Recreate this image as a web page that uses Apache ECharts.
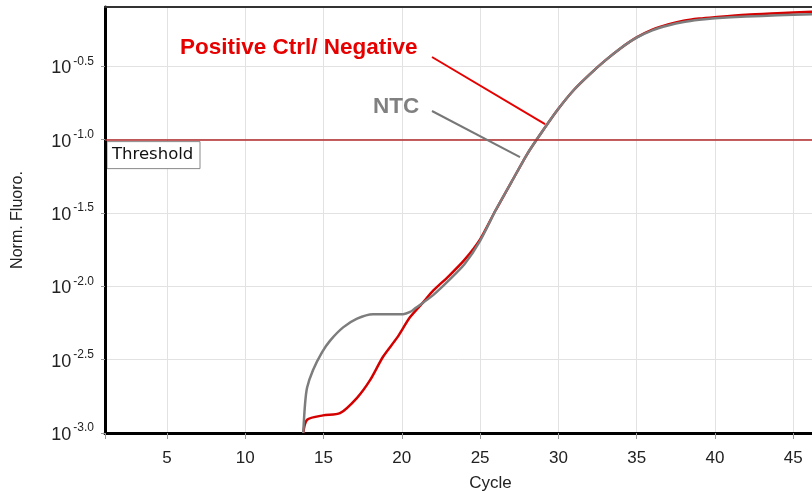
<!DOCTYPE html>
<html>
<head>
<meta charset="utf-8">
<script src="https://cdn.jsdelivr.net/npm/echarts@6/dist/echarts.min.js"></script>
<style>
  html, body { margin: 0; padding: 0; background: #fff; }
  #chart { width: 812px; height: 491px; }
</style>
</head>
<body>
<div id="chart"></div>
<script>
// Amplification curves; fluorescence stored as log10(Norm. Fluoro.)
const ntcCycles = [13.70, 13.82, 13.95, 14.33, 14.90, 15.42, 16.25, 17.14, 18.16, 20.08, 20.53, 20.85, 22, 23, 24, 25, 26, 27, 28, 29, 30, 31, 32, 33, 34, 35, 36, 37, 38, 39, 40, 42, 44, 46.2];
const ntcLogFluoro = [-3.00, -2.80, -2.69, -2.57, -2.45, -2.37, -2.28, -2.22, -2.19, -2.19, -2.175, -2.15, -2.06, -1.96, -1.85, -1.69, -1.48, -1.29, -1.10, -0.94, -0.79, -0.66, -0.555, -0.46, -0.375, -0.305, -0.255, -0.222, -0.198, -0.183, -0.173, -0.161, -0.153, -0.145];

const posCycles = [13.70, 13.95, 14.97, 16.05, 17.14, 17.97, 18.80, 19.70, 20.53, 21.36, 22, 23, 24, 25, 26, 27, 28, 29, 30, 31, 32, 33, 34, 35, 36, 37, 38, 39, 40, 42, 44, 46.2];
const posLogFluoro = [-3.00, -2.91, -2.88, -2.865, -2.76, -2.64, -2.48, -2.35, -2.21, -2.11, -2.03, -1.93, -1.82, -1.68, -1.48, -1.29, -1.10, -0.94, -0.79, -0.66, -0.555, -0.46, -0.375, -0.303, -0.25, -0.215, -0.19, -0.175, -0.165, -0.148, -0.138, -0.128];

const thresholdLog = -1.0;
const cycleRange = [1.04, 46.2];
const logRange = [-3.0, -0.096];

const pairs = (xs, ys) => xs.map((x, i) => [x, ys[i]]);

const chart = echarts.init(document.getElementById('chart'), null, { renderer: 'canvas' });
const FONT = '"Liberation Sans", Arial, sans-serif';

chart.setOption({
  animation: false,
  backgroundColor: '#ffffff',
  grid: { left: 105, right: 0, top: 7, bottom: 58, containLabel: false, outerBoundsMode: 'none' },
  xAxis: [{
    type: 'value',
    min: cycleRange[0],
    max: cycleRange[1],
    minInterval: 5,
    maxInterval: 5,
    name: 'Cycle',
    nameLocation: 'middle',
    nameGap: 42,
    nameTextStyle: { fontFamily: FONT, fontSize: 17, color: '#222', padding: [0, 0, 0, 64] },
    axisLine: { show: true, lineStyle: { color: '#000', width: 3 } },
    axisTick: { show: true, length: 6, lineStyle: { color: '#999', width: 1 } },
    axisLabel: {
      margin: 17, fontFamily: FONT, fontSize: 17, color: '#222',
      formatter: v => (Math.abs(v % 5) < 1e-6 ? String(v) : '')
    },
    splitLine: { show: true, lineStyle: { color: '#e2e2e2', width: 1 } }
  }, {
    type: 'value',
    position: 'top',
    min: cycleRange[0],
    max: cycleRange[1],
    axisLine: { show: true, lineStyle: { color: '#333', width: 2 } },
    axisTick: { show: false },
    axisLabel: { show: false },
    splitLine: { show: false }
  }],
  yAxis: {
    type: 'value',
    min: logRange[0],
    max: logRange[1],
    interval: 0.5,
    name: 'Norm. Fluoro.',
    nameLocation: 'middle',
    nameGap: 79,
    nameTextStyle: { fontFamily: FONT, fontSize: 16, color: '#222' },
    axisLine: { show: true, lineStyle: { color: '#000', width: 3 } },
    axisTick: { show: true, length: 4, lineStyle: { color: '#999', width: 1 } },
    axisLabel: {
      margin: 11,
      showMaxLabel: false,
      formatter: v => {
        if (Math.abs(v * 2 - Math.round(v * 2)) > 1e-6) return '';
        return '{b|10}{s|' + v.toFixed(1) + '}';
      },
      rich: {
        b: { fontFamily: FONT, fontSize: 18, color: '#222', padding: [4, 0, 0, 0] },
        s: { fontFamily: FONT, fontSize: 12, color: '#222', padding: [0, 0, 10, 2] }
      }
    },
    splitLine: { show: true, lineStyle: { color: '#e2e2e2', width: 1 } }
  },
  series: [{
    name: 'Positive Ctrl/ Negative',
    type: 'line',
    data: pairs(posCycles, posLogFluoro),
    showSymbol: false,
    smooth: 0.25,
    lineStyle: { color: '#d40000', width: 2.5 },
    z: 3,
    markLine: {
      silent: true,
      symbol: ['none', 'none'],
      label: { show: false },
      lineStyle: { color: '#b22a2a', width: 1.5, type: 'solid' },
      data: [{ yAxis: thresholdLog }]
    }
  }, {
    name: 'NTC',
    type: 'line',
    data: pairs(ntcCycles, ntcLogFluoro),
    showSymbol: false,
    smooth: 0.25,
    lineStyle: { color: '#7d7d7d', width: 2.5 },
    z: 4
  }]
});

// Annotation callouts and threshold tag, placed from data coordinates
const redTip = chart.convertToPixel({ gridIndex: 0 }, [29.15, -0.894]);
const grayTip = chart.convertToPixel({ gridIndex: 0 }, [27.55, -1.12]);
const thrY = chart.convertToPixel({ yAxisIndex: 0 }, thresholdLog);
const leftX = chart.convertToPixel({ xAxisIndex: 0 }, cycleRange[0]);

chart.setOption({
  graphic: [
    {
      type: 'text', left: 180, top: 36, z: 10,
      style: { text: 'Positive Ctrl/ Negative', fill: '#e60000', font: 'bold 22.5px ' + FONT }
    },
    {
      type: 'line', z: 10,
      shape: { x1: 432, y1: 57, x2: redTip[0], y2: redTip[1] },
      style: { stroke: '#e60000', lineWidth: 2 }
    },
    {
      type: 'text', left: 373, top: 95, z: 10,
      style: { text: 'NTC', fill: '#808080', font: 'bold 22.5px ' + FONT }
    },
    {
      type: 'line', z: 10,
      shape: { x1: 432, y1: 111, x2: grayTip[0], y2: grayTip[1] },
      style: { stroke: '#777777', lineWidth: 2 }
    },
    {
      type: 'group', z: 10, x: leftX + 2, y: thrY + 2,
      children: [
        { type: 'rect', shape: { x: 0, y: 0, width: 93, height: 27 },
          style: { fill: '#ffffff', stroke: '#8a8a8a', lineWidth: 1 } },
        { type: 'text', x: 5, y: 5,
          style: { text: 'Threshold', fill: '#111', font: '16.5px "DejaVu Sans", sans-serif' } }
      ]
    }
  ]
});
</script>
</body>
</html>
